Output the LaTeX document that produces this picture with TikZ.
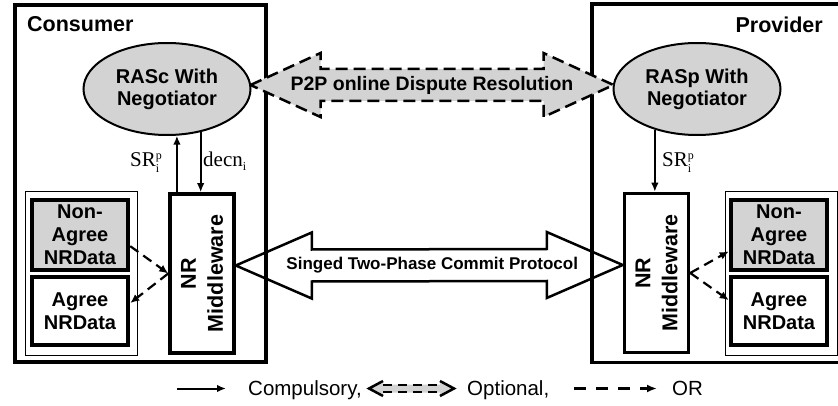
\documentclass[tikz,border=0pt]{standalone}
\usepackage{fontspec}
\setmainfont{Liberation Serif}
\newfontfamily\arial{Liberation Sans}
\usetikzlibrary{arrows.meta,calc,shapes.geometric}
\pgfdeclarelayer{bg}
\pgfsetlayers{bg,main}
\definecolor{lg}{RGB}{211,211,211}
\newcommand{\smallidx}[1]{\textrm{\fontsize{12}{12}\selectfont #1}}
\begin{document}
\begin{tikzpicture}[x=1pt,y=-1pt,
  frame/.style={line width=3.5},
  grp/.style={line width=1},
  ell/.style={ellipse, draw, line width=2, fill=lg, inner sep=0, minimum width=167, minimum height=92,
    font=\arial\bfseries\fontsize{20}{22}\selectfont, align=center},
  mw/.style={draw, line width=3.5, minimum width=64, minimum height=159, inner sep=0},
  mwtext/.style={rotate=90, align=center, font=\arial\bfseries\fontsize{21.5}{27}\selectfont},
  databox/.style={draw, line width=4.5, minimum width=96, inner sep=0, align=center,
    font=\arial\bfseries\fontsize{20}{23}\selectfont},
  solidarrow/.style={line width=2, -{Latex[length=9pt,width=7.5pt]}},
  orarrow/.style={line width=2.2, dash pattern=on 10pt off 6pt, -{Latex[length=9pt,width=8pt]}},
  p2p/.style={line width=2.5, dash pattern=on 12pt off 6pt, fill=lg},
  signed/.style={line width=2.5, fill=white, line join=miter},
  title/.style={font=\arial\bfseries\fontsize{21.5}{24}\selectfont, inner sep=0},
  serlab/.style={font=\fontsize{21}{24}\selectfont, inner sep=0},
  legtext/.style={font=\arial\fontsize{20.5}{24}\selectfont, inner sep=0}
]
\clip (0,0) rectangle (838,406);

% frames
\draw[frame] (15,5) rectangle (266,362);
\draw[frame] (850,4) -- (592,4) -- (592,362.5) -- (850,362.5);
\node[title, anchor=base west] (cons) at (27,32) {Consumer};
\node[title, anchor=base east] (prov) at (823,33) {Provider};

% group boxes
\draw[grp] (25,192) rectangle (137,355);
\draw[grp] (725,192) rectangle (837,355);

% data boxes
\node[databox, fill=lg, minimum height=70] (naL) at (80,235) {Non-\\Agree\\NRData};
\node[databox, minimum height=68] (agL) at (80,311) {Agree\\NRData};
\node[databox, fill=lg, minimum height=70] (naR) at (779,235) {Non-\\Agree\\NRData};
\node[databox, minimum height=68] (agR) at (779,311) {Agree\\NRData};

% middleware
\node[mw] (mwL) at (202,273.5) {};
\node[mwtext] (mwLt) at (mwL.center) {NR\\Middleware};
\node[mw] (mwR) at (656.5,273) {};
\node[mwtext] (mwRt) at (mwR.center) {NR\\Middleware};

% ellipses
\node[ell] (rasc) at (167,89) {RASc With\\Negotiator};
\node[ell] (rasp) at (697,89) {RASp With\\Negotiator};

% signed two-phase commit (behind frames)
\coordinate (sA) at ($(mwL.east)+(0,-8)$);
\coordinate (sB) at ($(mwR.west)+(0,-8)$);
\begin{pgfonlayer}{bg}
\draw[signed] (sA) -- ($(sA)+(76,-33)$) -- ($(sA)+(76,-16)$) -- ($(sB)+(-76,-16)$) -- ($(sB)+(-76,-33)$)
  -- (sB) -- ($(sB)+(-76,33)$) -- ($(sB)+(-76,16)$) -- ($(sA)+(76,16)$) -- ($(sA)+(76,33)$) -- cycle;
\end{pgfonlayer}
\node[font=\arial\bfseries\fontsize{17}{20}\selectfont, inner sep=0] (sgt) at ($(sA)!0.5!(sB)+(3,0)$) {Singed Two-Phase Commit Protocol};

% P2P dispute resolution
\coordinate (pA) at ($(rasc.east)+(-1,-4)$);
\coordinate (pB) at ($(rasp.west)+(1,-4)$);
\draw[p2p] (pA) -- ($(pA)+(70,-32)$) -- ($(pA)+(70,-16)$) -- ($(pB)+(-70,-16)$) -- ($(pB)+(-70,-32)$)
  -- (pB) -- ($(pB)+(-70,32)$) -- ($(pB)+(-70,16)$) -- ($(pA)+(70,16)$) -- ($(pA)+(70,32)$) -- cycle;
\node[font=\arial\bfseries\fontsize{19.5}{22}\selectfont, inner sep=0] (p2pt) at ($(pA)!0.5!(pB)$) {P2P online Dispute Resolution};

% compulsory arrows
\draw[solidarrow] (mwL.north -| rasc.-78) -- (rasc.-78);
\draw[solidarrow] (rasc.-52) -- (rasc.-52 |- mwL.north);
\draw[solidarrow] (rasp.-136) -- (rasp.-136 |- mwR.north);
\node[serlab, anchor=base west] (srL) at (130,167) {SR$^{\smallidx{p}}_{\smallidx{i}}$};
\node[serlab, anchor=base west] (decL) at (203,167) {decn$_{\smallidx{i}}$};
\node[serlab, anchor=base west] (srR) at (662,167) {SR$^{\smallidx{p}}_{\smallidx{i}}$};

% OR arrows
\draw[orarrow] ($(naL.south east)!0.35!(naL.north east)$) -- (mwL.west);
\draw[orarrow] (mwL.west) -- ($(agL.south east)!0.61!(agL.north east)$);
\draw[orarrow] (mwR.east) -- ($(naR.south west)!0.28!(naR.north west)$);
\draw[orarrow] (mwR.east) -- ($(agR.south west)!0.65!(agR.north west)$);

% legend
\coordinate (l1a) at (177,388.5);
\coordinate (l1b) at (226,388.5);
\draw[solidarrow] (l1a) -- (l1b);
\node[legtext, anchor=base west] (lc) at (248,395) {Compulsory,};
\coordinate (l2a) at (369,388.5);
\coordinate (l2b) at (454,388.5);
\fill[lg] (l2a) -- ($(l2a)+(14,-7.5)$) -- ($(l2a)+(14,-4)$) -- ($(l2b)+(-14,-4)$) -- ($(l2b)+(-14,-7.5)$)
  -- (l2b) -- ($(l2b)+(-14,7.5)$) -- ($(l2b)+(-14,4)$) -- ($(l2a)+(14,4)$) -- ($(l2a)+(14,7.5)$) -- cycle;
\draw[line width=2.5, line join=miter] ($(l2a)+(14,-7.5)$) -- (l2a) -- ($(l2a)+(14,7.5)$);
\draw[line width=2.5, line join=miter] ($(l2b)+(-14,-7.5)$) -- (l2b) -- ($(l2b)+(-14,7.5)$);
\draw[line width=2.5, dash pattern=on 9pt off 6pt] ($(l2a)+(14,-3.5)$) -- ($(l2b)+(-14,-3.5)$);
\draw[line width=2.5, dash pattern=on 9pt off 6pt] ($(l2a)+(14,3.5)$) -- ($(l2b)+(-14,3.5)$);
\node[legtext, anchor=base west] (lo) at (467,395) {Optional,};
\coordinate (l3a) at (574,388.5);
\coordinate (l3b) at (657,388.5);
\draw[line width=2.2, dash pattern=on 12pt off 10pt, -{Latex[length=10pt,width=8pt]}] (l3a) -- (l3b);
\node[legtext, anchor=base west] (lor) at (672,395) {OR};
\end{tikzpicture}
\end{document}
